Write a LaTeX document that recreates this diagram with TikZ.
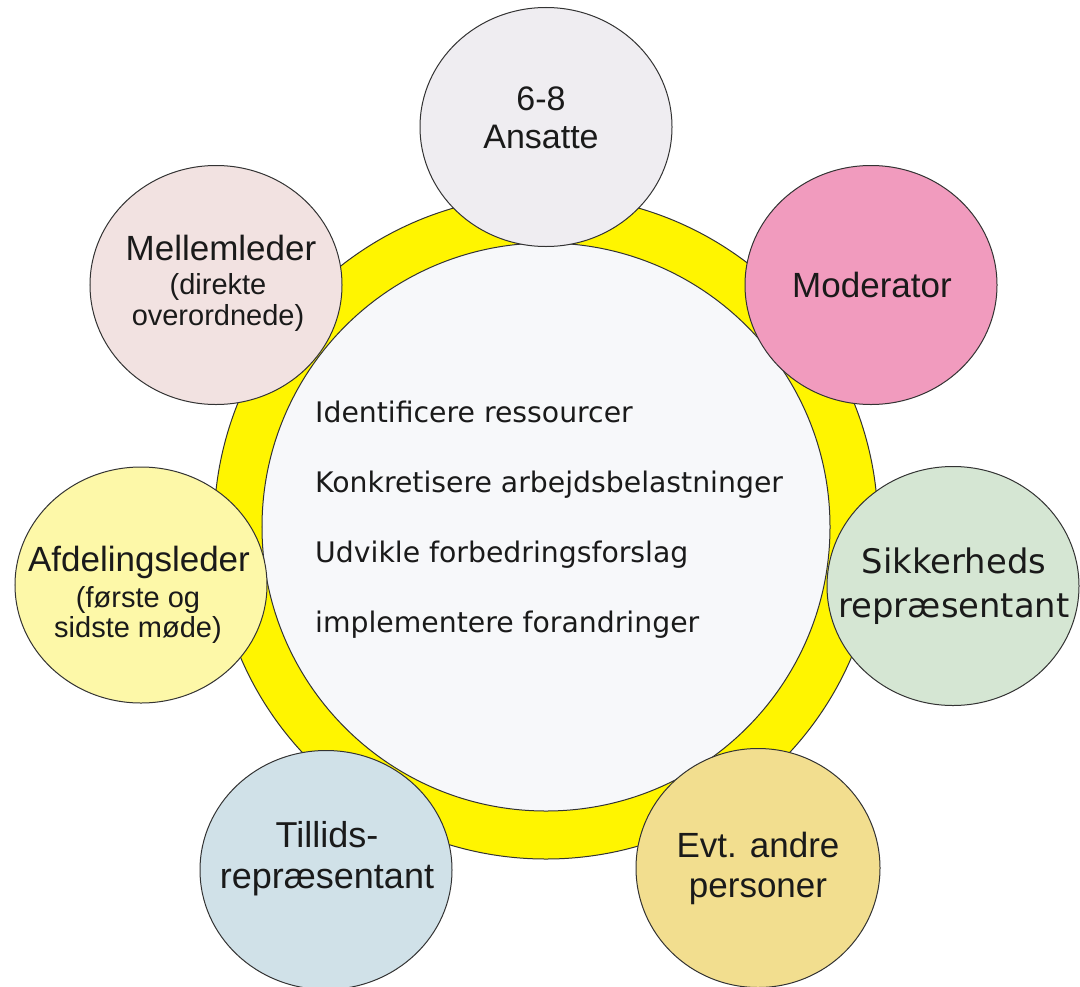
\documentclass[tikz,border=0pt]{standalone}
\usepackage{fontspec}
\setmainfont{Liberation Sans}
\newfontfamily\dejavu{DejaVu Sans}
\usetikzlibrary{shapes.geometric}
\definecolor{ringyellow}{HTML}{FFF500}
\definecolor{innerfill}{HTML}{F7F8FA}
\definecolor{edgegrey}{HTML}{333333}
\definecolor{txtcol}{HTML}{1A1A1A}
\definecolor{cAns}{HTML}{EFEDF1}
\definecolor{cMod}{HTML}{F19BBE}
\definecolor{cMel}{HTML}{F2E2E1}
\definecolor{cAfd}{HTML}{FDF8A8}
\definecolor{cSik}{HTML}{D5E6D3}
\definecolor{cTil}{HTML}{D0E1E8}
\definecolor{cEvt}{HTML}{F2DE8F}
\begin{document}
\begin{tikzpicture}[x=1bp,y=-1bp,
  sat/.style={ellipse,draw=edgegrey,line width=1bp,inner sep=0pt,minimum width=252bp,minimum height=239bp},
  maintxt/.style={anchor=base,align=center,text=txtcol,inner sep=0pt,font=\fontsize{35bp}{40bp}\selectfont},
  subtxt/.style={anchor=base,align=center,text=txtcol,inner sep=0pt,font=\fontsize{29bp}{31bp}\selectfont},
  ring/.style={circle,draw=edgegrey,line width=1bp,inner sep=0pt}]
\useasboundingbox[fill=white] (0,0) rectangle (1080,987);
% ring
\node[ring,fill=ringyellow,minimum size=664bp] (outer) at (546,527) {};
\node[ring,fill=innerfill,minimum size=568bp] (inner) at (546,527) {};
\node[anchor=base west,align=left,inner sep=0pt,text=txtcol,font=\dejavu\fontsize{28.3bp}{70bp}\selectfont] (tasks) at (315,632)
  {Identificere ressourcer\\Konkretisere arbejdsbelastninger\\Udvikle forbedringsforslag\\implementere forandringer};
% satellites
\node[sat,fill=cAns] (ans) at (546,127) {};
\node[maintxt,font=\fontsize{34bp}{38bp}\selectfont] (ansT) at (541,148) {6-8\\Ansatte};
\node[sat,fill=cMod] (mod) at (871,285) {};
\node[maintxt] (modT) at (872,297) {Moderator};
\node[sat,fill=cMel] (mel) at (216,285) {};
\node[maintxt] (melT) at (221,260) {Mellemleder};
\node[subtxt] (melS) at (218,325) {(direkte\\overordnede)};
\node[sat,fill=cAfd,minimum height=236bp] (afd) at (141,585) {};
\node[maintxt] (afdT) at (139,571) {Afdelingsleder};
\node[subtxt,font=\fontsize{29bp}{30bp}\selectfont] (afdS) at (138,637) {(første og\\sidste møde)};
\node[sat,fill=cSik] (sik) at (953,586) {};
\node[maintxt,font=\dejavu\fontsize{33.8bp}{44bp}\selectfont] (sikT) at (954,617) {Sikkerheds\\repræsentant};
\node[sat,fill=cTil] (til) at (326,870) {};
\node[maintxt,font=\fontsize{36bp}{41bp}\selectfont] (tilT) at (327,888) {Tillids-\\repræsentant};
\node[sat,fill=cEvt,minimum width=244bp] (evt) at (758,868) {};
\node[maintxt] (evtT) at (758,897) {Evt. andre\\personer};
\end{tikzpicture}
\end{document}
